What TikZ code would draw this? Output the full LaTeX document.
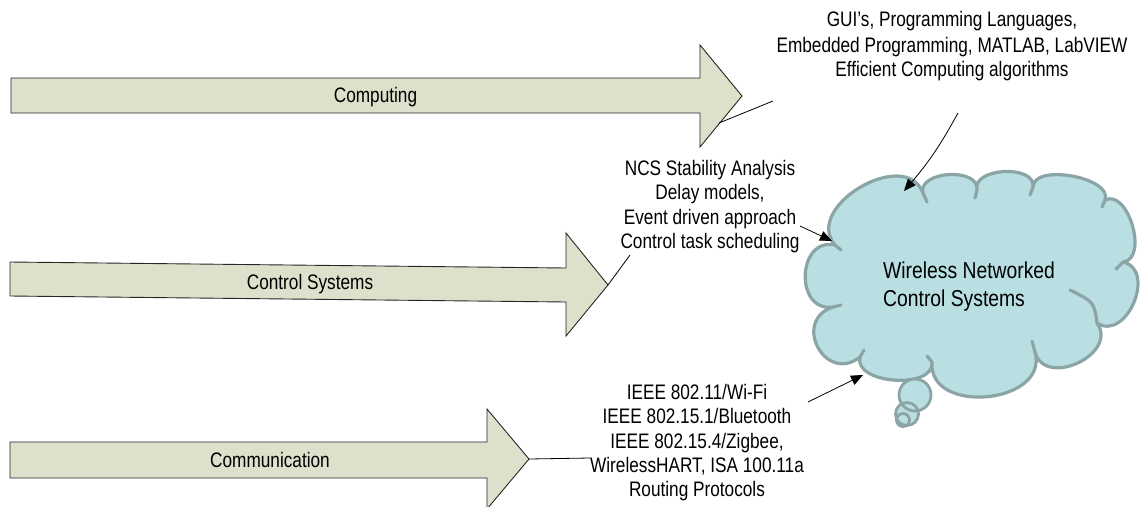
\documentclass[tikz,border=0pt]{standalone}
\usepackage{fontspec}
\setmainfont{Liberation Sans}
\newfontfamily\lblfont[FakeStretch=0.82]{Liberation Sans}
\newfontfamily\cloudfont[FakeStretch=0.84]{Liberation Sans}
\usetikzlibrary{arrows.meta,calc}

\definecolor{arrowfill}{RGB}{221,225,203}
\definecolor{cloudfill}{RGB}{185,223,227}
\definecolor{cloudline}{RGB}{139,165,167}

\begin{document}
\begin{tikzpicture}[x=1pt,y=-1pt,
  bigarrow/.style={fill=arrowfill, draw=black!85, line width=0.9pt, line join=miter},
  lbl/.style={inner sep=0pt, font=\lblfont\fontsize{21}{#1}\selectfont},
  lbl/.default=24.3,
  conn/.style={draw=black, line width=0.8pt},
  pointer/.style={conn, -{Triangle[length=12pt,width=10pt]}},
  puffto/.style={to path={.. controls ($(\tikztostart)!#1!100:(\tikztotarget)$)
      and ($(\tikztotarget)!#1!-100:(\tikztostart)$) .. (\tikztotarget)}},
  cloudedge/.style={draw=cloudline, line width=3.2pt, line cap=round, line join=round},
]
\useasboundingbox (0,0) rectangle (1143,506);

% ---- three thick block arrows ----
\draw[bigarrow] (11,78) -- (700,78) -- (700,45) -- (742,96) -- (700,147)
  -- (700,113) -- (11,113) -- cycle;
\draw[bigarrow] (10,262) -- (566,268) -- (566,233) -- (608,285) -- (566,336)
  -- (566,302) -- (10,296) -- cycle;
\draw[bigarrow] (10,442) -- (487,442) -- (487,409) -- (529,459) -- (487,509)
  -- (487,478) -- (10,478) -- cycle;

\node[lbl, anchor=base] (complbl) at (375.5,102) {Computing};
\node[lbl, anchor=base] (ctrllbl) at (310,289.5) {Control Systems};
\node[lbl, anchor=base] (commlbl) at (270,467.5) {Communication};

% ---- cloud ----
\coordinate (Ja) at (835,245);
\coordinate (Jk) at (923,193);
\coordinate (Jj) at (977,190);
\coordinate (Ji) at (1033,187);
\coordinate (Jh) at (1105,200);
\coordinate (Jg) at (1123,262);
\coordinate (Jf) at (1097,323);
\coordinate (Je) at (1035,352);
\coordinate (Jd) at (932,362);
\coordinate (Jc) at (860,357);
\coordinate (Jb) at (833,307);

\path[fill=cloudfill, cloudedge]
  (Ja) to[puffto=50pt] (Jk) to[puffto=23pt] (Jj) to[puffto=23pt] (Ji)
  to[puffto=24pt] (Jh) to[puffto=26pt] (Jg) to[puffto=35pt] (Jf)
  to[puffto=38pt] (Je) to[puffto=54pt] (Jd) to[puffto=28pt] (Jc)
  to[puffto=44pt] (Jb) to[puffto=39pt] (Ja) -- cycle;

% short inner strokes where the puffs meet
\draw[cloudedge] (Jk) -- (927,202);
\draw[cloudedge] (Jj) -- (975,198);
\draw[cloudedge] (Ji) -- (1030,195);
\draw[cloudedge] (Jh) -- (1102,207);
\draw[cloudedge] (Jg) -- (1116,269);
\draw[cloudedge] (Jf) .. controls (1094,302) .. (1070,290);
\draw[cloudedge] (Je) -- (1032,341);
\draw[cloudedge] (Jd) -- (927,356);
\draw[cloudedge] (Jc) -- (864,350);
\draw[cloudedge] (Jb) -- (841,305);
\draw[cloudedge] (Ja) -- (841,250);

% thought bubbles under the cloud
\fill[cloudfill] (915,395) circle (16) (907,414) circle (11.5) (903,420) circle (6.5);
\draw[draw=cloudline, line width=2.8pt] (915,395) circle (16) (907,414) circle (11.5)
  (903,420) circle (6.5);

\node[anchor=base west, inner sep=0pt, font=\cloudfont\fontsize{23}{28}\selectfont]
  (wncs) at (883,278)
  {\begin{tabular}[t]{@{}l@{}}Wireless Networked\\Control Systems\end{tabular}};

% ---- topic texts ----
\node[lbl=25, anchor=base] (swtxt) at (952,27)
  {\begin{tabular}[t]{@{}c@{}}GUI’s, Programming Languages,\\
   Embedded Programming, MATLAB, LabVIEW\\Efficient Computing algorithms\end{tabular}};
\node[lbl, anchor=base] (ncstxt) at (710,175.5)
  {\begin{tabular}[t]{@{}c@{}}NCS Stability Analysis\\Delay models,\\
   Event driven approach\\Control task scheduling\end{tabular}};
\node[lbl, anchor=base] (nettxt) at (697,399.5)
  {\begin{tabular}[t]{@{}c@{}}IEEE 802.11/Wi-Fi\\IEEE 802.15.1/Bluetooth\\
   IEEE 802.15.4/Zigbee,\\WirelessHART, ISA 100.11a\\Routing Protocols\end{tabular}};

% ---- connectors ----
\coordinate (compEdge) at (719,123);
\coordinate (compEnd) at (773,101);
\coordinate (ctrlTip) at (608,285);
\coordinate (ctrlEnd) at (630,255);
\coordinate (commTip) at (529,459);
\coordinate (commEnd) at (590,458);
\draw[conn] (compEdge) -- (compEnd);
\draw[conn] (ctrlTip) -- (ctrlEnd);
\draw[conn] (commTip) -- (commEnd);

\coordinate (swStart) at (958,113);
\coordinate (cloudTop) at (904,191);
\coordinate (ncsStart) at (800,226);
\coordinate (cloudLeft) at (832,241);
\coordinate (netStart) at (808,402);
\coordinate (cloudBottom) at (863,375);
\draw[pointer] (swStart) to[bend left=6] (cloudTop);
\draw[pointer] (ncsStart) -- (cloudLeft);
\draw[pointer] (netStart) -- (cloudBottom);
\end{tikzpicture}
\end{document}
